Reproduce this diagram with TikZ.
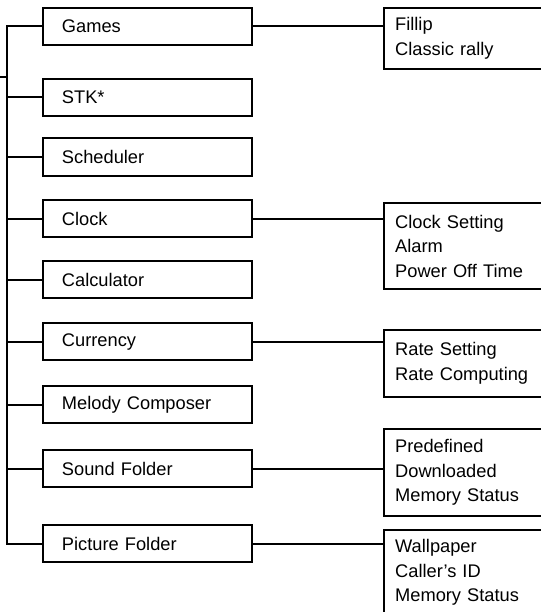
\documentclass[tikz,border=0pt]{standalone}
\usepackage{fontspec}
\setmainfont{Liberation Sans}
\begin{document}
\begin{tikzpicture}[x=0.75pt,y=0.75pt,yscale=-1,xscale=1,
  menubox/.style={draw, line width=1.5pt, anchor=north west, minimum width=156.5pt, minimum height=28.1pt, inner xsep=14pt, inner ysep=0pt, text width=128.5pt, align=left, font=\fontsize{13.7}{18.4}\selectfont},
  listbox/.style={draw, line width=1.5pt, anchor=north west, minimum width=121pt, inner xsep=8.6pt, inner ysep=0pt, text width=103.8pt, align=left, font=\fontsize{13.7}{18.4}\selectfont},
  wire/.style={line width=1.5pt}]
            \useasboundingbox (0,0) rectangle (541,612);
            % menu column
            \node[menubox] (games) at (42.3,6.7) {Games};
            \node[menubox] (stk) at (42.3,77.7) {STK*};
            \node[menubox] (sched) at (42.3,137.3) {Scheduler};
            \node[menubox] (clock) at (42.3,199) {Clock};
            \node[menubox] (calc) at (42.3,260) {Calculator};
            \node[menubox] (curr) at (42.3,322) {Currency};
            \node[menubox] (melody) at (42.3,385) {Melody Composer};
            \node[menubox] (sound) at (42.3,449) {Sound Folder};
            \node[menubox] (pict) at (42.3,524) {Picture Folder};
            % sub lists
            \node[listbox, minimum height=46.2pt] (gameslist) at (382.7,6.7) {Fillip\\Classic rally};
            \node[listbox, minimum height=64.5pt] (clocklist) at (382.7,202.3) {Clock Setting\\Alarm\\Power Off Time};
            \node[listbox, minimum height=50.3pt] (currlist) at (382.7,329) {Rate Setting\\Rate Computing};
            \node[listbox, minimum height=65.5pt] (soundlist) at (382.7,427.7) {Predefined\\Downloaded\\Memory Status};
            \node[listbox, minimum height=64pt] (pictlist) at (382.7,529) {Wallpaper\\Caller’s ID\\Memory Status};
            % trunk
            \coordinate (feed) at (0,76.7);
            \coordinate (hub) at (6.7,76.7);
            \draw[wire] (feed) -- (hub);
            \draw[wire] (games.west) -- (hub |- games.west) -- (hub |- pict.west) -- (pict.west);
            \foreach \n in {stk,sched,clock,calc,curr,melody,sound}
              \draw[wire] (hub |- \n.west) -- (\n.west);
            % links to sub lists
            \foreach \n in {games,clock,curr,sound,pict}
              \draw[wire] (\n.east) -- (\n.east -| \n list.west);
\end{tikzpicture}
\end{document}
